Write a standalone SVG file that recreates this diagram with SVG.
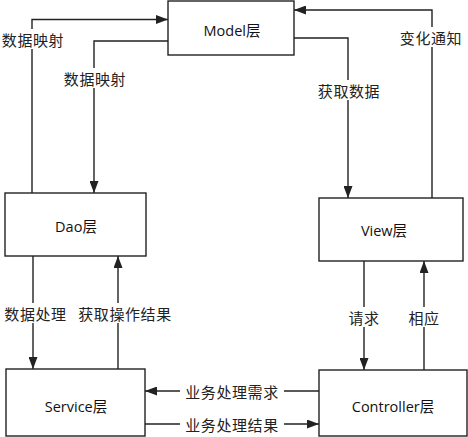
<svg xmlns="http://www.w3.org/2000/svg" width="468" height="437" viewBox="0 0 468 437">
<style>
.box{fill:#fff;stroke:#222;stroke-width:1.4}
.bt{font-family:"Open Sans","Noto Sans CJK SC",sans-serif;font-size:14.5px;fill:#111;text-anchor:middle;dominant-baseline:central}
.ln{fill:none;stroke:#222;stroke-width:1.4}
.lb{font-family:"Noto Sans CJK SC",sans-serif;font-size:15px;fill:#222;text-anchor:middle;dominant-baseline:central;letter-spacing:0.6px}
.bg{fill:#fff}
</style>
<defs>
<marker id="ah" markerUnits="userSpaceOnUse" markerWidth="12" markerHeight="9" refX="12" refY="4.5" orient="auto">
<path d="M0,0 L12,4.5 L0,9 z" fill="#222"/>
</marker>
</defs>
<rect width="468" height="437" fill="#fff"/>
<g id="connectors">
<path class="ln" d="M32,193 V19.5 H168" marker-end="url(#ah)"/>
<path class="ln" d="M168,41 H94 V193" marker-end="url(#ah)"/>
<path class="ln" d="M432,198 V10 H294" marker-end="url(#ah)"/>
<path class="ln" d="M294,38 H348 V198" marker-end="url(#ah)"/>
<path class="ln" d="M33,256 V369" marker-end="url(#ah)"/>
<path class="ln" d="M118,369 V256" marker-end="url(#ah)"/>
<path class="ln" d="M364,261 V370" marker-end="url(#ah)"/>
<path class="ln" d="M424,370 V261" marker-end="url(#ah)"/>
<path class="ln" d="M319,391 H145" marker-end="url(#ah)"/>
<path class="ln" d="M145,424 H319" marker-end="url(#ah)"/>
<g id="labels">
<rect class="bg" x="2" y="29" width="63" height="20"/>
<text class="lb" x="33" y="39">数据映射</text>
<rect class="bg" x="63" y="68" width="64" height="20"/>
<text class="lb" x="95" y="78">数据映射</text>
<rect class="bg" x="398" y="27" width="66" height="20"/>
<text class="lb" x="431" y="37">变化通知</text>
<rect class="bg" x="316" y="80" width="66" height="20"/>
<text class="lb" x="349" y="90">获取数据</text>
<rect class="bg" x="2" y="303" width="68" height="20"/>
<text class="lb" x="35.5" y="313">数据处理</text>
<rect class="bg" x="76" y="303" width="98" height="20"/>
<text class="lb" x="125" y="313">获取操作结果</text>
<rect class="bg" x="346" y="307" width="36" height="20"/>
<text class="lb" x="364" y="317">请求</text>
<rect class="bg" x="406" y="307" width="36" height="20"/>
<text class="lb" x="424" y="317">相应</text>
<rect class="bg" x="180" y="381" width="104" height="20"/>
<text class="lb" x="232" y="391">业务处理需求</text>
<rect class="bg" x="180" y="414" width="104" height="20"/>
<text class="lb" x="232" y="424">业务处理结果</text>
</g>
</g>
<g id="model"><rect class="box" x="168" y="1" width="126" height="54"/><text class="bt" x="232" y="30">Model层</text></g>
<g id="dao"><rect class="box" x="5" y="193" width="141" height="63"/><text class="bt" x="76" y="226">Dao层</text></g>
<g id="view"><rect class="box" x="319" y="198" width="144" height="63"/><text class="bt" x="384" y="230">View层</text></g>
<g id="service"><rect class="box" x="6" y="369" width="139" height="67"/><text class="bt" x="76" y="406">Service层</text></g>
<g id="controller"><rect class="box" x="319" y="370" width="148" height="66"/><text class="bt" x="393" y="406">Controller层</text></g>
</svg>
